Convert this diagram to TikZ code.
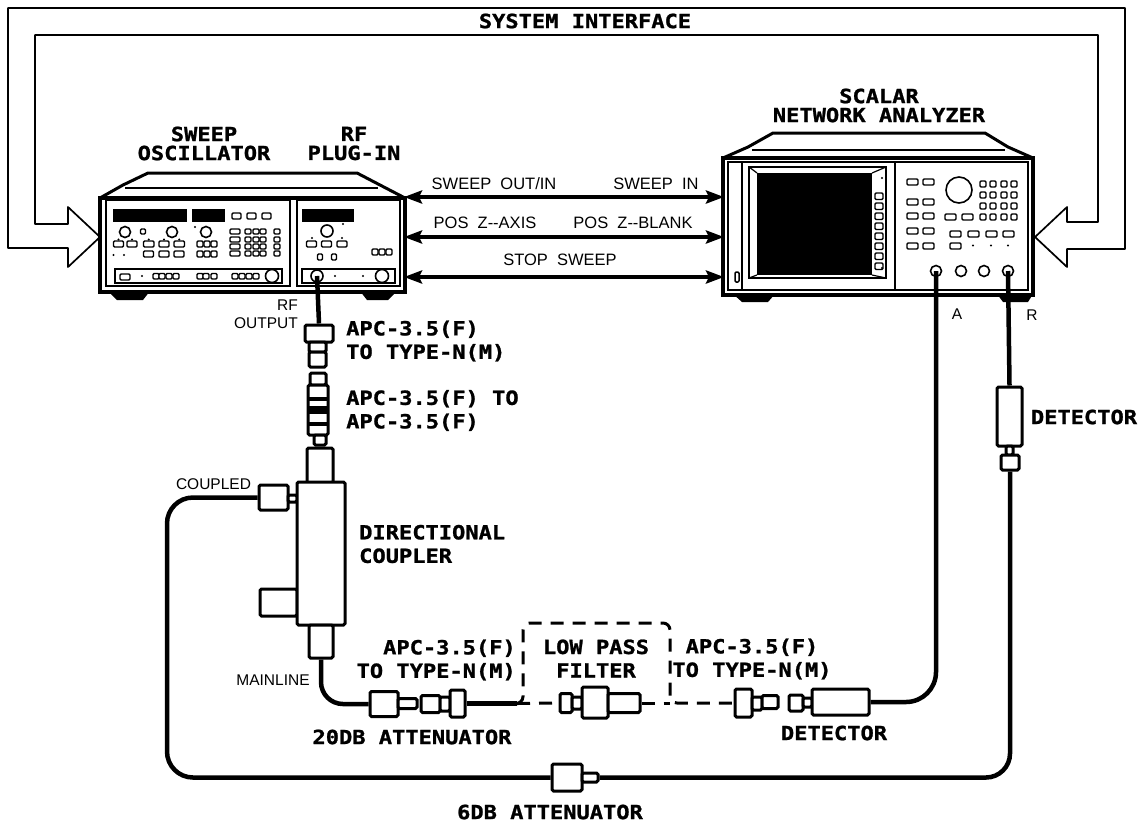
\documentclass[tikz,border=0pt]{standalone}
\usepackage{fontspec}
\usetikzlibrary{arrows.meta}
\newfontfamily\plotfam{DejaVu Sans Mono}[FakeStretch=1.13, BoldFeatures={FakeBold=1.2}]
\newfontfamily\notefam{Liberation Sans}
\begin{document}
\begin{tikzpicture}[
  x=1pt, y=-1pt,
  lbl/.style={font=\plotfam\bfseries\fontsize{19.5}{23.5}\selectfont, inner sep=0pt},
  note/.style={font=\notefam\fontsize{15.5}{18}\selectfont, inner sep=0pt},
  signote/.style={font=\notefam\fontsize{16.5}{18}\selectfont, inner sep=0pt},
  part/.style n args={2}{draw, fill=white, line width=3pt, rounded corners=1.5pt, inner sep=0pt, minimum width=#1, minimum height=#2},
  chassis/.style n args={2}{draw, fill=white, line width=3.6pt, inner sep=0pt, minimum width=#1, minimum height=#2},
  shell/.style={line width=3pt, line join=round, fill=white},
  thin/.style={line width=1.2pt},
  key/.style={draw, line width=1.4pt, rounded corners=1.2pt, fill=white},
  knob/.style={circle, draw, line width=1.6pt, fill=white, inner sep=0pt, minimum size=#1},
  bus/.style={line width=1.7pt, line join=round},
  link/.style={{Stealth[length=18pt,width=13pt,inset=3pt]}-{Stealth[length=18pt,width=13pt,inset=3pt]}, line width=4.4pt, shorten <=-1pt, shorten >=-1pt},
  cable/.style={line width=4.5pt},
  dashln/.style={line width=3pt, dash pattern=on 13pt off 9pt}
]
\useasboundingbox (0,0) rectangle (1147,823);

\draw[bus] (35,35) -- (35,224) -- (68,224) -- (68,207) -- (100,237) -- (68,267) -- (68,248) -- (8,248) -- (8,8) -- (1125,8) -- (1125,249) -- (1067,249) -- (1067,267) -- (1035,237) -- (1067,207) -- (1067,222) -- (1098,222) -- (1098,35) -- cycle;
\node[lbl] (busname) at (585,21) {SYSTEM INTERFACE};

\fill (108,291) -- (117,300) -- (143,300) -- (150,291) -- cycle;
\fill (360,291) -- (367,300) -- (388,300) -- (397,291) -- cycle;
\draw[shell] (100,198) -- (123,185) -- (148,173) -- (357,173) -- (380,185) -- (405,198) -- cycle;
\draw[thin] (125,188) -- (378,188);
\node[chassis={305pt}{94pt}] (osc) at (252.5,245) {};
\draw[thin] (106,200) rectangle (290,286);
\draw[thin] (297,200) rectangle (400,286);
\fill (113,209) rectangle (187,222);
\fill (192,209) rectangle (225,222);
\foreach \x in {232,247,262} \draw[key] (\x,213) rectangle +(9,6);
\foreach \x in {125,172,206} \node[knob=11pt] at (\x,232) {};
\draw[key] (140.5,229) rectangle +(5,5);
\fill (195,227) circle (1.2);
\foreach \x/\w in {113.5/10,127/10,143.5/10.5,159/10,174/10.5} {
  \draw[key] (\x,241) rectangle +(\w,6);
  \fill (\x+\w/2,239.5) circle (1.1);
}
\foreach \x in {143.5,159,174} \draw[key] (\x,251) rectangle +(10,6);
\foreach \x in {113.5,124} \fill (\x,255) circle (1.2);
\foreach \x in {197,204,211} \foreach \y in {241,251} \draw[key] (\x,\y) rectangle +(6,6);
\foreach \y in {229,237,244,251} {
  \draw[key] (230,\y) rectangle +(10,5);
  \foreach \x in {245,253,260} \draw[key] (\x,\y) rectangle +(6,5);
  \draw[key] (274,\y) rectangle +(6,5);
}
\draw[thin] (115,269) rectangle (282,283);
\draw[key] (120,274) rectangle +(10,6);
\fill (142,276) circle (1.2);
\foreach \x in {153,159,166,173,197,203,211,232,239,246,253} \draw[key] (\x,273.5) rectangle +(6,5.5);
\node[knob=13pt] at (272,276) {};

\fill (302,209) rectangle (354,222);
\node[knob=12pt] at (327,231) {};
\foreach \x/\y in {343/224,312/238,342/238} \fill (\x,\y) circle (1.1);
\foreach \x in {306.5,321.5,337} \draw[key] (\x,241) rectangle +(10,6);
\foreach \x in {320,334} \draw[key] (\x-2.5,254) rectangle +(5,6);
\foreach \x in {372,379,386} \draw[key] (\x,249) rectangle +(6,6);
\draw[thin] (302,269) rectangle (395,283);
\node[knob=12pt] (rfport) at (317,276) {};
\foreach \x in {335,363} \fill (\x,276) circle (1.2);
\node[knob=13pt] at (382,276) {};

\fill (733,294) -- (742,302) -- (768,302) -- (775,294) -- cycle;
\fill (997,294) -- (1003,302) -- (1028,302) -- (1033,294) -- cycle;
\draw[shell] (723,158) -- (748,147) -- (773,133) -- (985,133) -- (1008,147) -- (1033,158) -- cycle;
\draw[thin] (752,150) -- (1005,150);
\node[chassis={310pt}{137pt}] (nsa) at (878,226.5) {};
\draw[thin] (728,162) rectangle (1028,290);
\draw[thin] (742,162) -- (742,290);
\draw[thin] (895,162) -- (895,290);
\draw[thin] (749,167) rectangle (886,278);
\fill (757,173) rectangle (872,275);
\draw[thin] (749,167) -- (757,173) (886,167) -- (872,173) (749,278) -- (757,275) (886,278) -- (872,275);
\foreach \i in {0,...,7} \draw[key] (875,193+10*\i) rectangle +(8,6.5);
\foreach \y in {178,268} \fill (882,\y) circle (1.2);
\draw[key, line width=1.5pt] (735,272) rectangle (739,282);
\foreach \y in {182,202,216,231,246} \foreach \x in {907,923} \draw[key] (\x,\y-3) rectangle +(11,6);
\node[knob=26pt] at (959,190) {};
\foreach \x in {983,993,1004,1014} \foreach \y in {184,195,206,217} \draw[key] (\x-3,\y-3) rectangle +(6,6);
\foreach \x in {945,962} \draw[key] (\x,214) rectangle +(11,6);
\foreach \x in {950,968,986,1003} \draw[key] (\x,231) rectangle +(11,6);
\draw[key] (950,243) rectangle +(11,6);
\foreach \x in {973,991,1008} \fill (\x,245.5) circle (1.2);
\node[knob=11pt] (porta) at (936,271) {};
\node[knob=11pt] at (961,271) {};
\node[knob=11pt] at (984,271) {};
\node[knob=11pt] (portr) at (1008,271) {};

\coordinate (sweepl) at (405,197);
\coordinate (sweepr) at (723,197);
\coordinate (posl) at (405,237);
\coordinate (posr) at (723,237);
\coordinate (stopl) at (405,277);
\coordinate (stopr) at (723,277);
\draw[link] (sweepl) -- (sweepr);
\draw[link] (posl) -- (posr);
\draw[link] (stopl) -- (stopr);

\node[signote] (sweepout) at (494,184) {SWEEP~~OUT/IN};
\node[signote] (sweepin) at (656,184) {SWEEP~~IN};
\node[signote] (zaxis) at (485,223) {POS~~Z--AXIS};
\node[signote] (zblank) at (633,223) {POS~~Z--BLANK};
\node[signote] (stopsweep) at (560,260) {STOP~~SWEEP};

\node[lbl, align=center] (sweepname) at (204,143.5) {SWEEP\\[-4.5pt]OSCILLATOR};
\node[lbl, align=center] (pluginname) at (354,143.5) {RF\\[-4.5pt]PLUG-IN};
\node[lbl, align=center] (nsaname) at (879,105.5) {SCALAR\\[-4.5pt]NETWORK ANALYZER};

\node[part={28pt}{17pt}] (adpa) at (319,333.5) {};
\node[part={17pt}{10pt}] (adpb) at (317.5,347) {};
\node[part={17pt}{15pt}] (adpc) at (317.5,359.5) {};
\node[part={16pt}{12pt}] (thrua) at (318,379) {};
\node[part={20pt}{50pt}] (thrub) at (318,410) {};
\fill (308,397) rectangle (328,401);
\fill (308,406) rectangle (328,414);
\fill (308,422) rectangle (328,426);
\node[part={12pt}{10pt}] (thruc) at (320,440) {};
\node[part={26pt}{35pt}] (cplin) at (320,465.5) {};
\node[part={37pt}{27pt}] (cplside) at (278.5,602.5) {};
\node[part={29pt}{25pt}] (cplport) at (273.5,497.5) {};
\node[part={9pt}{7pt}] (cplneck) at (292.5,498.5) {};
\node[part={48pt}{143pt}] (coupler) at (321,553.5) {};
\node[part={24pt}{33pt}] (cplout) at (321,641.5) {};
\draw[cable] (rfport.center) -- (adpa.north);

\node[note, align=right] (rfoutput) at (266,314) {\hfill RF\\OUTPUT};
\node[note] (coupled) at (213.5,484) {COUPLED};
\node[note] (mainline) at (273,680) {MAINLINE};
\node[note] (portaname) at (957,314) {A};
\node[note] (portrname) at (1032,315) {R};

\node[lbl, align=left, anchor=west] (adpname) at (346,341) {APC-3.5(F)\\TO TYPE-N(M)};
\node[lbl, align=left, anchor=west] (thruname) at (346,410.5) {APC-3.5(F) TO\\APC-3.5(F)};
\node[lbl, align=left, anchor=west] (cplname) at (359,544) {DIRECTIONAL\\COUPLER};
\node[lbl, align=right, anchor=east] (adpleft) at (516,660) {APC-3.5(F)\\TO TYPE-N(M)};
\node[lbl, align=center] (filtername) at (596,658.5) {LOW PASS\\FILTER};
\node[lbl, align=center] (adpright) at (752,659) {APC-3.5(F)\\TO TYPE-N(M)};
\node[lbl] (attn20) at (412,737) {20DB ATTENUATOR};
\node[lbl] (detname) at (834,733) {DETECTOR};
\node[lbl] (rdetname) at (1084,417) {DETECTOR};
\node[lbl] (attn6) at (550,812) {6DB ATTENUATOR};

\node[part={28pt}{25pt}] (attb) at (384,704) {};
\node[part={19pt}{10pt}] (attp) at (407.5,703.5) {};
\node[part={19pt}{17pt}] (leftb) at (430.5,704) {};
\node[part={10pt}{14pt}] (leftc) at (445,704) {};
\node[part={15pt}{27pt}] (leftd) at (457.5,703.5) {};
\node[part={12pt}{19pt}] (fila) at (566,703) {};
\node[part={10pt}{12pt}] (filb) at (577,703) {};
\node[part={26pt}{31pt}] (filc) at (595,702.5) {};
\node[part={32pt}{19pt}] (fild) at (624,703) {};
\node[part={17pt}{28pt}] (righta) at (743.5,703) {};
\node[part={10pt}{13pt}] (rightb) at (757,703.5) {};
\node[part={16pt}{13pt}] (rightc) at (770,702) {};
\node[part={14pt}{16pt}] (deta) at (796,703) {};
\node[part={9pt}{9pt}] (detb) at (807.5,702.5) {};
\node[part={57pt}{26pt}] (detc) at (840.5,702) {};
\coordinate (boxin) at (517,703.5);
\draw[cable, rounded corners=22pt] (cplout.south) |- (attb.west);
\draw[cable] (leftd.east) -- (boxin);
\draw[dashln, rounded corners=7pt] (boxin) -- (523,703.5) -- (523,623) -- (670,623) -- (670,703) -- (righta.west);
\draw[dashln] (boxin) -- (fila.west);
\draw[dashln] (fild.east) -- (670,703);
\draw[cable, rounded corners=30pt] (detc.east) -| (porta.center);

\node[part={25pt}{59pt}] (rdeta) at (1009.5,416.5) {};
\node[part={7pt}{9pt}] (rdetb) at (1009.5,450.5) {};
\node[part={18pt}{15pt}] (rdetc) at (1010,462.5) {};
\draw[cable] (portr.center) -- (rdeta.north);
\node[part={30pt}{27pt}] (padb) at (567,777.5) {};
\node[part={16pt}{9pt}] (padp) at (590,777.5) {};
\draw[cable, rounded corners=26pt] (cplport.west) -- (167,497.5) |- (padb.west);
\draw[cable, rounded corners=24pt] (padp.east) -| (rdetc.south);
\end{tikzpicture}
\end{document}
